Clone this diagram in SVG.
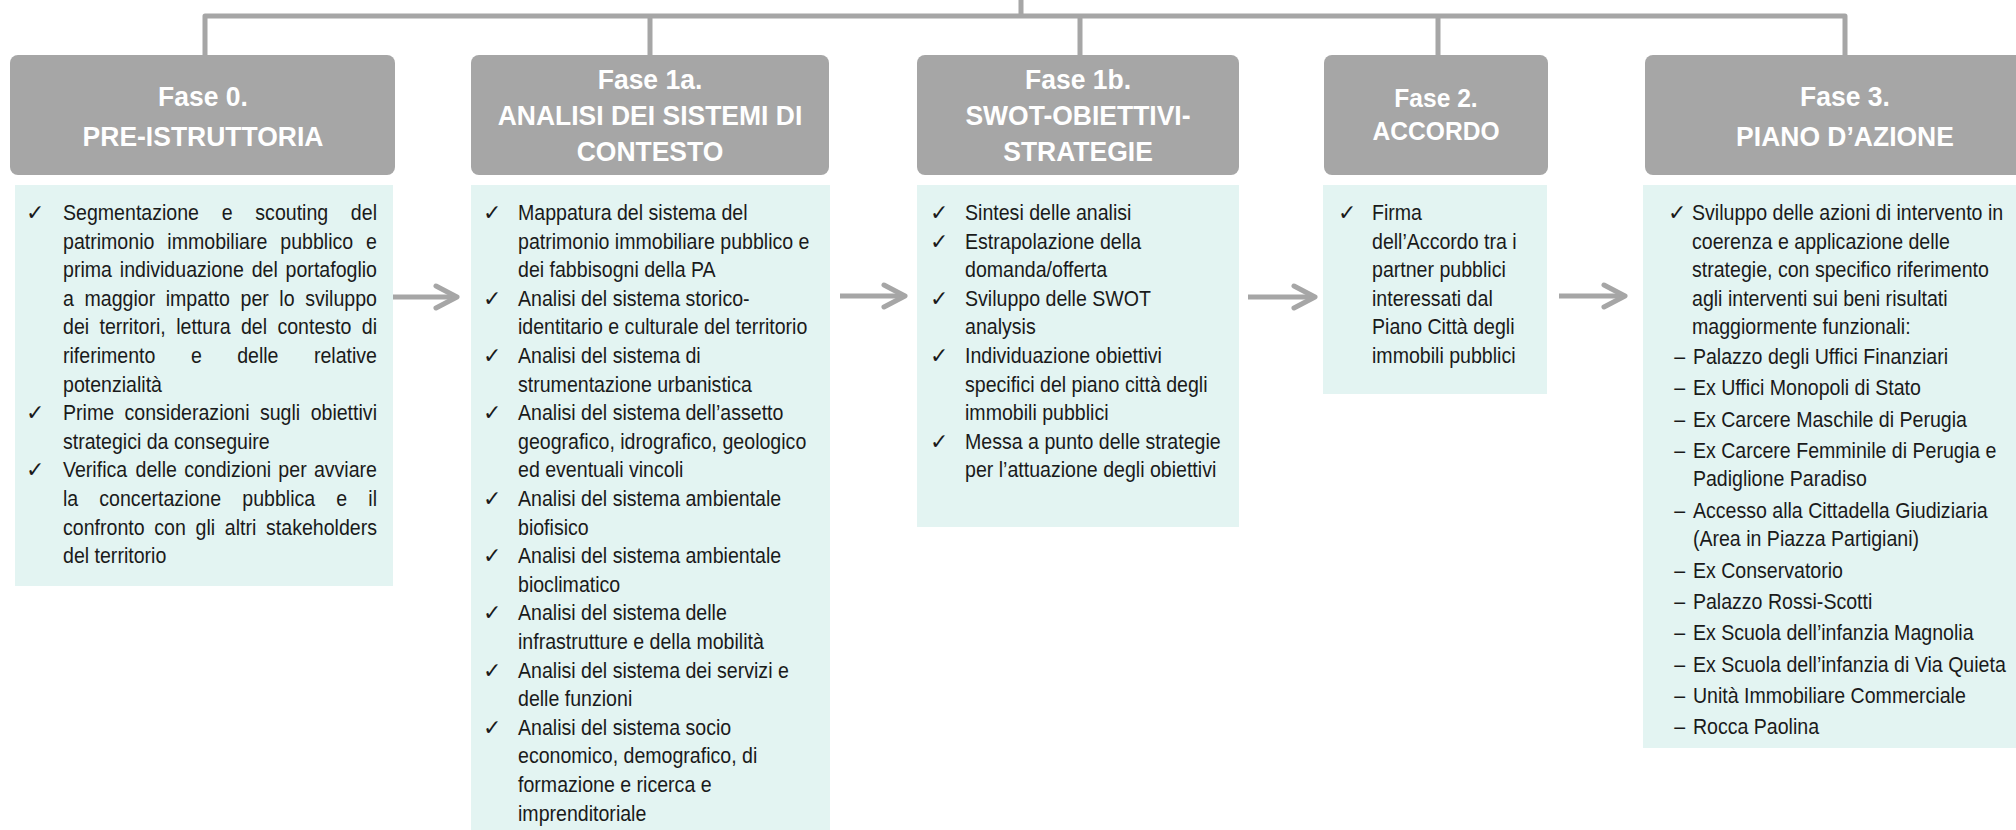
<svg xmlns="http://www.w3.org/2000/svg" width="2016" height="830" viewBox="0 0 2016 830">
<style>
.hdr{fill:#A6A6A6}
.bodybox{fill:#E3F4F2}
.hd{font-family:"Liberation Sans",Arial,sans-serif;font-weight:bold;font-size:28px;fill:#FFFFFF;text-anchor:middle}
.hd2{font-size:26px}
.t{font-family:"Liberation Sans",Arial,sans-serif;font-size:22px;fill:#1A1A1A}
.e{text-anchor:end}
.ck{font-family:"DejaVu Sans",sans-serif;font-size:22px;fill:#1A1A1A}
.conn{fill:none;stroke:#A6A6A6;stroke-width:5;stroke-linejoin:round}
.arr{fill:none;stroke:#A6A6A6;stroke-width:5;marker-end:url(#chev)}
</style>
<defs>
<marker id="chev" markerUnits="userSpaceOnUse" markerWidth="32" markerHeight="32" refX="26" refY="14" orient="auto">
<path d="M5 3 L26 14 L5 25" fill="none" stroke="#A6A6A6" stroke-width="5" stroke-linecap="round" stroke-linejoin="round"/>
</marker>
</defs>
<rect width="2016" height="830" fill="#FFFFFF"/>

<g id="connectors">
<path class="conn" d="M205 55 V16 H1845 V55"/>
<path class="conn" d="M650 16 V55 M1080 16 V55 M1438 16 V55 M1021 0 V16"/>
<line class="arr" x1="393" y1="297" x2="457" y2="297"/>
<line class="arr" x1="840" y1="296" x2="905" y2="296"/>
<line class="arr" x1="1248" y1="297" x2="1315" y2="297"/>
<line class="arr" x1="1559" y1="296" x2="1625" y2="296"/>
</g>

<g id="fase0">
<rect class="hdr" x="10" y="55" width="385" height="120" rx="8"/>
<g transform="translate(203 0) scale(0.946 1)">
<text class="hd" x="0" y="106">Fase 0.</text>
<text class="hd" x="0" y="146">PRE-ISTRUTTORIA</text>
</g>
<rect class="bodybox" x="15" y="185" width="378" height="401"/>
<text class="ck" x="26" y="220">✓</text>
<text class="ck" x="26" y="420.2">✓</text>
<text class="ck" x="26" y="477.4">✓</text>
<g transform="translate(63 0) scale(0.89 1)">
<text class="t" y="220"><tspan x="0">Segmentazione</tspan><tspan x="178.3">e</tspan><tspan x="216.1">scouting</tspan></text>
<text class="t e" x="352.8" y="220">del</text>
<text class="t" y="248.6"><tspan x="0">patrimonio</tspan><tspan x="117.2">immobiliare</tspan><tspan x="244.2">pubblico</tspan></text>
<text class="t e" x="352.8" y="248.6">e</text>
<text class="t" y="277.2"><tspan x="0">prima</tspan><tspan x="63.8">individuazione</tspan><tspan x="212">del</tspan></text>
<text class="t e" x="352.8" y="277.2">portafoglio</text>
<text class="t" y="305.8"><tspan x="0">a</tspan><tspan x="24.1">maggior</tspan><tspan x="115.4">impatto</tspan><tspan x="199.5">per</tspan><tspan x="243.1">lo</tspan></text>
<text class="t e" x="352.8" y="305.8">sviluppo</text>
<text class="t" y="334.4"><tspan x="0">dei</tspan><tspan x="41">territori,</tspan><tspan x="127.2">lettura</tspan><tspan x="199.9">del</tspan><tspan x="240.9">contesto</tspan></text>
<text class="t e" x="352.8" y="334.4">di</text>
<text class="t" y="363"><tspan x="0">riferimento</tspan><tspan x="143.7">e</tspan><tspan x="195.7">delle</tspan></text>
<text class="t e" x="352.8" y="363">relative</text>
<text class="t" x="0" y="391.6">potenzialità</text>
<text class="t" y="420.2"><tspan x="0">Prime</tspan><tspan x="69.1">considerazioni</tspan><tspan x="221.3">sugli</tspan></text>
<text class="t e" x="352.8" y="420.2">obiettivi</text>
<text class="t" x="0" y="448.8">strategici da conseguire</text>
<text class="t" y="477.4"><tspan x="0">Verifica</tspan><tspan x="81.5">delle</tspan><tspan x="136.1">condizioni</tspan><tspan x="242">per</tspan></text>
<text class="t e" x="352.8" y="477.4">avviare</text>
<text class="t" y="506"><tspan x="0">la</tspan><tspan x="40.8">concertazione</tspan><tspan x="201.5">pubblica</tspan><tspan x="307.1">e</tspan></text>
<text class="t e" x="352.8" y="506">il</text>
<text class="t" y="534.6"><tspan x="0">confronto</tspan><tspan x="102.6">con</tspan><tspan x="148.9">gli</tspan><tspan x="181.8">altri</tspan></text>
<text class="t e" x="352.8" y="534.6">stakeholders</text>
<text class="t" x="0" y="563.2">del territorio</text>
</g>
</g>

<g id="fase1a">
<rect class="hdr" x="471" y="55" width="358" height="120" rx="8"/>
<g transform="translate(650 0) scale(0.946 1)">
<text class="hd" x="0" y="89">Fase 1a.</text>
<text class="hd" x="0" y="125">ANALISI DEI SISTEMI DI</text>
<text class="hd" x="0" y="161">CONTESTO</text>
</g>
<rect class="bodybox" x="471" y="185" width="359" height="645"/>
<g class="ck">
<text x="483" y="220">✓</text>
<text x="483" y="305.8">✓</text>
<text x="483" y="363">✓</text>
<text x="483" y="420.2">✓</text>
<text x="483" y="506">✓</text>
<text x="483" y="563.2">✓</text>
<text x="483" y="620.4">✓</text>
<text x="483" y="677.6">✓</text>
<text x="483" y="734.8">✓</text>
</g>
<g transform="translate(518 0) scale(0.89 1)">
<text class="t">
<tspan x="0" y="220">Mappatura del sistema del</tspan>
<tspan x="0" y="248.6">patrimonio immobiliare pubblico e</tspan>
<tspan x="0" y="277.2">dei fabbisogni della PA</tspan>
<tspan x="0" y="305.8">Analisi del sistema storico-</tspan>
<tspan x="0" y="334.4">identitario e culturale del territorio</tspan>
<tspan x="0" y="363">Analisi del sistema di</tspan>
<tspan x="0" y="391.6">strumentazione urbanistica</tspan>
<tspan x="0" y="420.2">Analisi del sistema dell’assetto</tspan>
<tspan x="0" y="448.8">geografico, idrografico, geologico</tspan>
<tspan x="0" y="477.4">ed eventuali vincoli</tspan>
<tspan x="0" y="506">Analisi del sistema ambientale</tspan>
<tspan x="0" y="534.6">biofisico</tspan>
<tspan x="0" y="563.2">Analisi del sistema ambientale</tspan>
<tspan x="0" y="591.8">bioclimatico</tspan>
<tspan x="0" y="620.4">Analisi del sistema delle</tspan>
<tspan x="0" y="649">infrastrutture e della mobilità</tspan>
<tspan x="0" y="677.6">Analisi del sistema dei servizi e</tspan>
<tspan x="0" y="706.2">delle funzioni</tspan>
<tspan x="0" y="734.8">Analisi del sistema socio</tspan>
<tspan x="0" y="763.4">economico, demografico, di</tspan>
<tspan x="0" y="792">formazione e ricerca e</tspan>
<tspan x="0" y="820.6">imprenditoriale</tspan>
</text>
</g>
</g>

<g id="fase1b">
<rect class="hdr" x="917" y="55" width="322" height="120" rx="8"/>
<g transform="translate(1078 0) scale(0.946 1)">
<text class="hd" x="0" y="89">Fase 1b.</text>
<text class="hd" x="0" y="125">SWOT-OBIETTIVI-</text>
<text class="hd" x="0" y="161">STRATEGIE</text>
</g>
<rect class="bodybox" x="917" y="185" width="322" height="342"/>
<g class="ck">
<text x="930" y="220">✓</text>
<text x="930" y="248.6">✓</text>
<text x="930" y="305.8">✓</text>
<text x="930" y="363">✓</text>
<text x="930" y="448.8">✓</text>
</g>
<g transform="translate(965 0) scale(0.89 1)">
<text class="t">
<tspan x="0" y="220">Sintesi delle analisi</tspan>
<tspan x="0" y="248.6">Estrapolazione della</tspan>
<tspan x="0" y="277.2">domanda/offerta</tspan>
<tspan x="0" y="305.8">Sviluppo delle SWOT</tspan>
<tspan x="0" y="334.4">analysis</tspan>
<tspan x="0" y="363">Individuazione obiettivi</tspan>
<tspan x="0" y="391.6">specifici del piano città degli</tspan>
<tspan x="0" y="420.2">immobili pubblici</tspan>
<tspan x="0" y="448.8">Messa a punto delle strategie</tspan>
<tspan x="0" y="477.4">per l’attuazione degli obiettivi</tspan>
</text>
</g>
</g>

<g id="fase2">
<rect class="hdr" x="1324" y="55" width="224" height="120" rx="8"/>
<g transform="translate(1436 0) scale(0.946 1)">
<text class="hd hd2" x="0" y="107">Fase 2.</text>
<text class="hd hd2" x="0" y="140">ACCORDO</text>
</g>
<rect class="bodybox" x="1323" y="185" width="224" height="209"/>
<text class="ck" x="1338" y="220">✓</text>
<g transform="translate(1372 0) scale(0.89 1)">
<text class="t">
<tspan x="0" y="220">Firma</tspan>
<tspan x="0" y="248.6">dell’Accordo tra i</tspan>
<tspan x="0" y="277.2">partner pubblici</tspan>
<tspan x="0" y="305.8">interessati dal</tspan>
<tspan x="0" y="334.4">Piano Città degli</tspan>
<tspan x="0" y="363">immobili pubblici</tspan>
</text>
</g>
</g>

<g id="fase3">
<rect class="hdr" x="1645" y="55" width="400" height="120" rx="8"/>
<g transform="translate(1845 0) scale(0.946 1)">
<text class="hd" x="0" y="106">Fase 3.</text>
<text class="hd" x="0" y="146">PIANO D’AZIONE</text>
</g>
<rect class="bodybox" x="1643" y="185" width="402" height="563"/>
<text class="ck" x="1668" y="220">✓</text>
<g transform="translate(1692 0) scale(0.89 1)">
<text class="t">
<tspan x="0" y="220">Sviluppo delle azioni di intervento in</tspan>
<tspan x="0" y="248.6">coerenza e applicazione delle</tspan>
<tspan x="0" y="277.2">strategie, con specifico riferimento</tspan>
<tspan x="0" y="305.8">agli interventi sui beni risultati</tspan>
<tspan x="0" y="334.4">maggiormente funzionali:</tspan>
</text>
<text class="t">
<tspan x="-20" y="364">–</tspan>
<tspan x="-20" y="395.3">–</tspan>
<tspan x="-20" y="426.6">–</tspan>
<tspan x="-20" y="457.9">–</tspan>
<tspan x="-20" y="517.8">–</tspan>
<tspan x="-20" y="577.7">–</tspan>
<tspan x="-20" y="609">–</tspan>
<tspan x="-20" y="640.3">–</tspan>
<tspan x="-20" y="671.6">–</tspan>
<tspan x="-20" y="702.9">–</tspan>
<tspan x="-20" y="734.2">–</tspan>
</text>
<text class="t">
<tspan x="1" y="364">Palazzo degli Uffici Finanziari</tspan>
<tspan x="1" y="395.3">Ex Uffici Monopoli di Stato</tspan>
<tspan x="1" y="426.6">Ex Carcere Maschile di Perugia</tspan>
<tspan x="1" y="457.9">Ex Carcere Femminile di Perugia e</tspan>
<tspan x="1" y="486.5">Padiglione Paradiso</tspan>
<tspan x="1" y="517.8">Accesso alla Cittadella Giudiziaria</tspan>
<tspan x="1" y="546.4">(Area in Piazza Partigiani)</tspan>
<tspan x="1" y="577.7">Ex Conservatorio</tspan>
<tspan x="1" y="609">Palazzo Rossi-Scotti</tspan>
<tspan x="1" y="640.3">Ex Scuola dell’infanzia Magnolia</tspan>
<tspan x="1" y="671.6">Ex Scuola dell’infanzia di Via Quieta</tspan>
<tspan x="1" y="702.9">Unità Immobiliare Commerciale</tspan>
<tspan x="1" y="734.2">Rocca Paolina</tspan>
</text>
</g>
</g>
</svg>
